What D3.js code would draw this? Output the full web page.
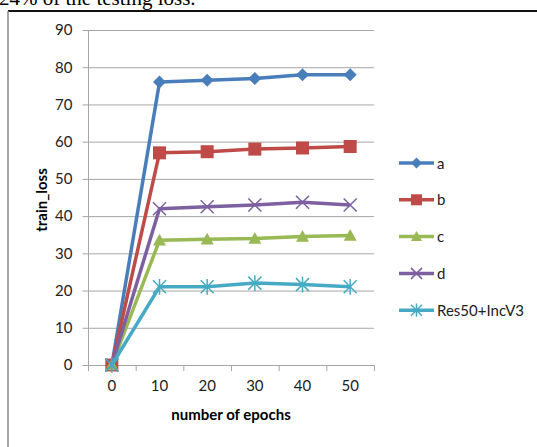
<!DOCTYPE html>
<html>
<head>
<meta charset="utf-8">
<script src="https://cdn.jsdelivr.net/npm/d3@7"></script>
<style>
  body { margin: 0; background: #fff; }
  svg { display: block; }
</style>
</head>
<body>
<svg id="chart" width="537" height="447"></svg>
<script>
// epochs on the category axis
const epochs = [0, 10, 20, 30, 40, 50];
const seriesNames = ["a", "b", "c", "d", "Res50+IncV3"];
const aVals = [0, 76, 76.5, 77, 78, 78];
const bVals = [0, 57, 57.3, 58, 58.3, 58.7];
const cVals = [0, 33.5, 33.8, 34, 34.5, 34.8];
const dVals = [0, 42, 42.5, 43, 43.7, 43];
const resVals = [0, 21, 21, 22, 21.6, 21];
const yTicks = [0, 10, 20, 30, 40, 50, 60, 70, 80, 90];

const series = [
    {name: seriesNames[0], values: aVals, color: "#4a7ebb", shape: "diamond"},
    {name: seriesNames[1], values: bVals, color: "#be4b48", shape: "square"},
    {name: seriesNames[2], values: cVals, color: "#98b954", shape: "triangle"},
    {name: seriesNames[3], values: dVals, color: "#7d60a0", shape: "x"},
    {name: seriesNames[4], values: resVals, color: "#46aac5", shape: "star"}
];

const svg = d3.select("#chart");
const font = "Lato, 'Open Sans', sans-serif";

// caption text cut by the top of the picture
svg.append("text")
    .attr("x", -1).attr("y", 5)
    .attr("font-family", "'Liberation Serif', serif")
    .attr("font-size", 21)
    .text("24% of the testing loss.");

// frame of the embedded chart
svg.append("line").attr("x1", 8).attr("x2", 537).attr("y1", 11).attr("y2", 11)
    .attr("stroke", "#111").attr("stroke-width", 2);
svg.append("line").attr("x1", 8).attr("x2", 8).attr("y1", 11).attr("y2", 447)
    .attr("stroke", "#888").attr("stroke-width", 1.5);

const plotLeft = 88, plotRight = 374, plotTop = 30, plotBottom = 365;

const x = d3.scaleBand().domain(epochs).range([plotLeft, plotRight]);
const y = d3.scaleLinear().domain([0, 90]).range([plotBottom, plotTop]);

// gridlines
svg.append("g")
    .selectAll("line")
    .data(yTicks)
    .join("line")
    .attr("x1", plotLeft).attr("x2", plotRight)
    .attr("y1", d => y(d) + 0.5).attr("y2", d => y(d) + 0.5)
    .attr("stroke", "#a6a6a6").attr("stroke-width", 1);

// y axis
const yAxis = svg.append("g")
    .attr("transform", `translate(${plotLeft + 0.5},0)`)
    .call(d3.axisLeft(y).tickValues(yTicks).tickSize(6).tickPadding(10));
yAxis.select(".domain").attr("stroke", "#a6a6a6").attr("d", `M0,${plotTop}V${plotBottom}`);
yAxis.selectAll(".tick line").attr("stroke", "#a6a6a6");
yAxis.selectAll(".tick text").attr("font-family", font).attr("font-size", 15).attr("fill", "#222");

// x axis with ticks between categories
const xAxis = svg.append("g")
    .attr("transform", `translate(0,${plotBottom + 0.5})`)
    .call(d3.axisBottom(x).tickSize(0).tickPadding(15));
xAxis.select(".domain").attr("stroke", "#a6a6a6").attr("d", `M${plotLeft},0H${plotRight}`);
xAxis.selectAll(".tick text").attr("font-family", font).attr("font-size", 15).attr("fill", "#222");
svg.append("g")
    .selectAll("line")
    .data(d3.range(epochs.length + 1))
    .join("line")
    .attr("x1", i => plotLeft + i * x.step() + 0.5).attr("x2", i => plotLeft + i * x.step() + 0.5)
    .attr("y1", plotBottom).attr("y2", plotBottom + 6)
    .attr("stroke", "#a6a6a6");

// axis titles
svg.append("text")
    .attr("transform", "translate(47,200) rotate(-90)")
    .attr("text-anchor", "middle")
    .attr("font-family", font).attr("font-size", 15).attr("font-weight", "bold")
    .text("train_loss");
svg.append("text")
    .attr("x", 231).attr("y", 420)
    .attr("text-anchor", "middle")
    .attr("font-family", font).attr("font-size", 15).attr("font-weight", "bold")
    .text("number of epochs");

function drawMarker(g, shape, color, s) {
    if (shape === "diamond") {
        g.append("path").attr("d", `M0,${-s}L${s},0L0,${s}L${-s},0Z`).attr("fill", color);
    } else if (shape === "square") {
        g.append("rect").attr("x", -s).attr("y", -s).attr("width", 2 * s).attr("height", 2 * s).attr("fill", color);
    } else if (shape === "triangle") {
        g.append("path").attr("d", `M0,${-s}L${s},${s * 0.8}L${-s},${s * 0.8}Z`).attr("fill", color);
    } else if (shape === "x") {
        g.append("path").attr("d", `M${-s},${-s}L${s},${s}M${-s},${s}L${s},${-s}`)
            .attr("stroke", color).attr("stroke-width", 1.5);
    } else {
        g.append("path").attr("d", `M${-s},${-s}L${s},${s}M${-s},${s}L${s},${-s}M0,${-s * 1.2}V${s * 1.2}`)
            .attr("stroke", color).attr("stroke-width", 1.5);
    }
}

const line = d3.line()
    .x((d, i) => x(epochs[i]) + x.bandwidth() / 2)
    .y(d => y(d));

series.forEach(s => {
    svg.append("path")
        .datum(s.values)
        .attr("fill", "none")
        .attr("stroke", s.color)
        .attr("stroke-width", 3.5)
        .attr("stroke-linejoin", "round")
        .attr("d", line);
    s.values.forEach((v, i) => {
        const g = svg.append("g")
            .attr("transform", `translate(${x(epochs[i]) + x.bandwidth() / 2},${y(v)})`);
        drawMarker(g, s.shape, s.color, 6.5);
    });
});

// legend
const legend = svg.append("g").attr("transform", "translate(399,163)");
series.forEach((s, i) => {
    const g = legend.append("g").attr("transform", `translate(0,${i * 36.8})`);
    g.append("line").attr("x1", 0).attr("x2", 35).attr("y1", 0).attr("y2", 0)
        .attr("stroke", s.color).attr("stroke-width", 3.5);
    const m = g.append("g").attr("transform", "translate(17.5,0)");
    drawMarker(m, s.shape, s.color, 5.5);
    g.append("text")
        .attr("x", 38).attr("y", 5.5)
        .attr("font-family", font).attr("font-size", 15).attr("fill", "#222")
        .text(s.name);
});
</script>
</body>
</html>
